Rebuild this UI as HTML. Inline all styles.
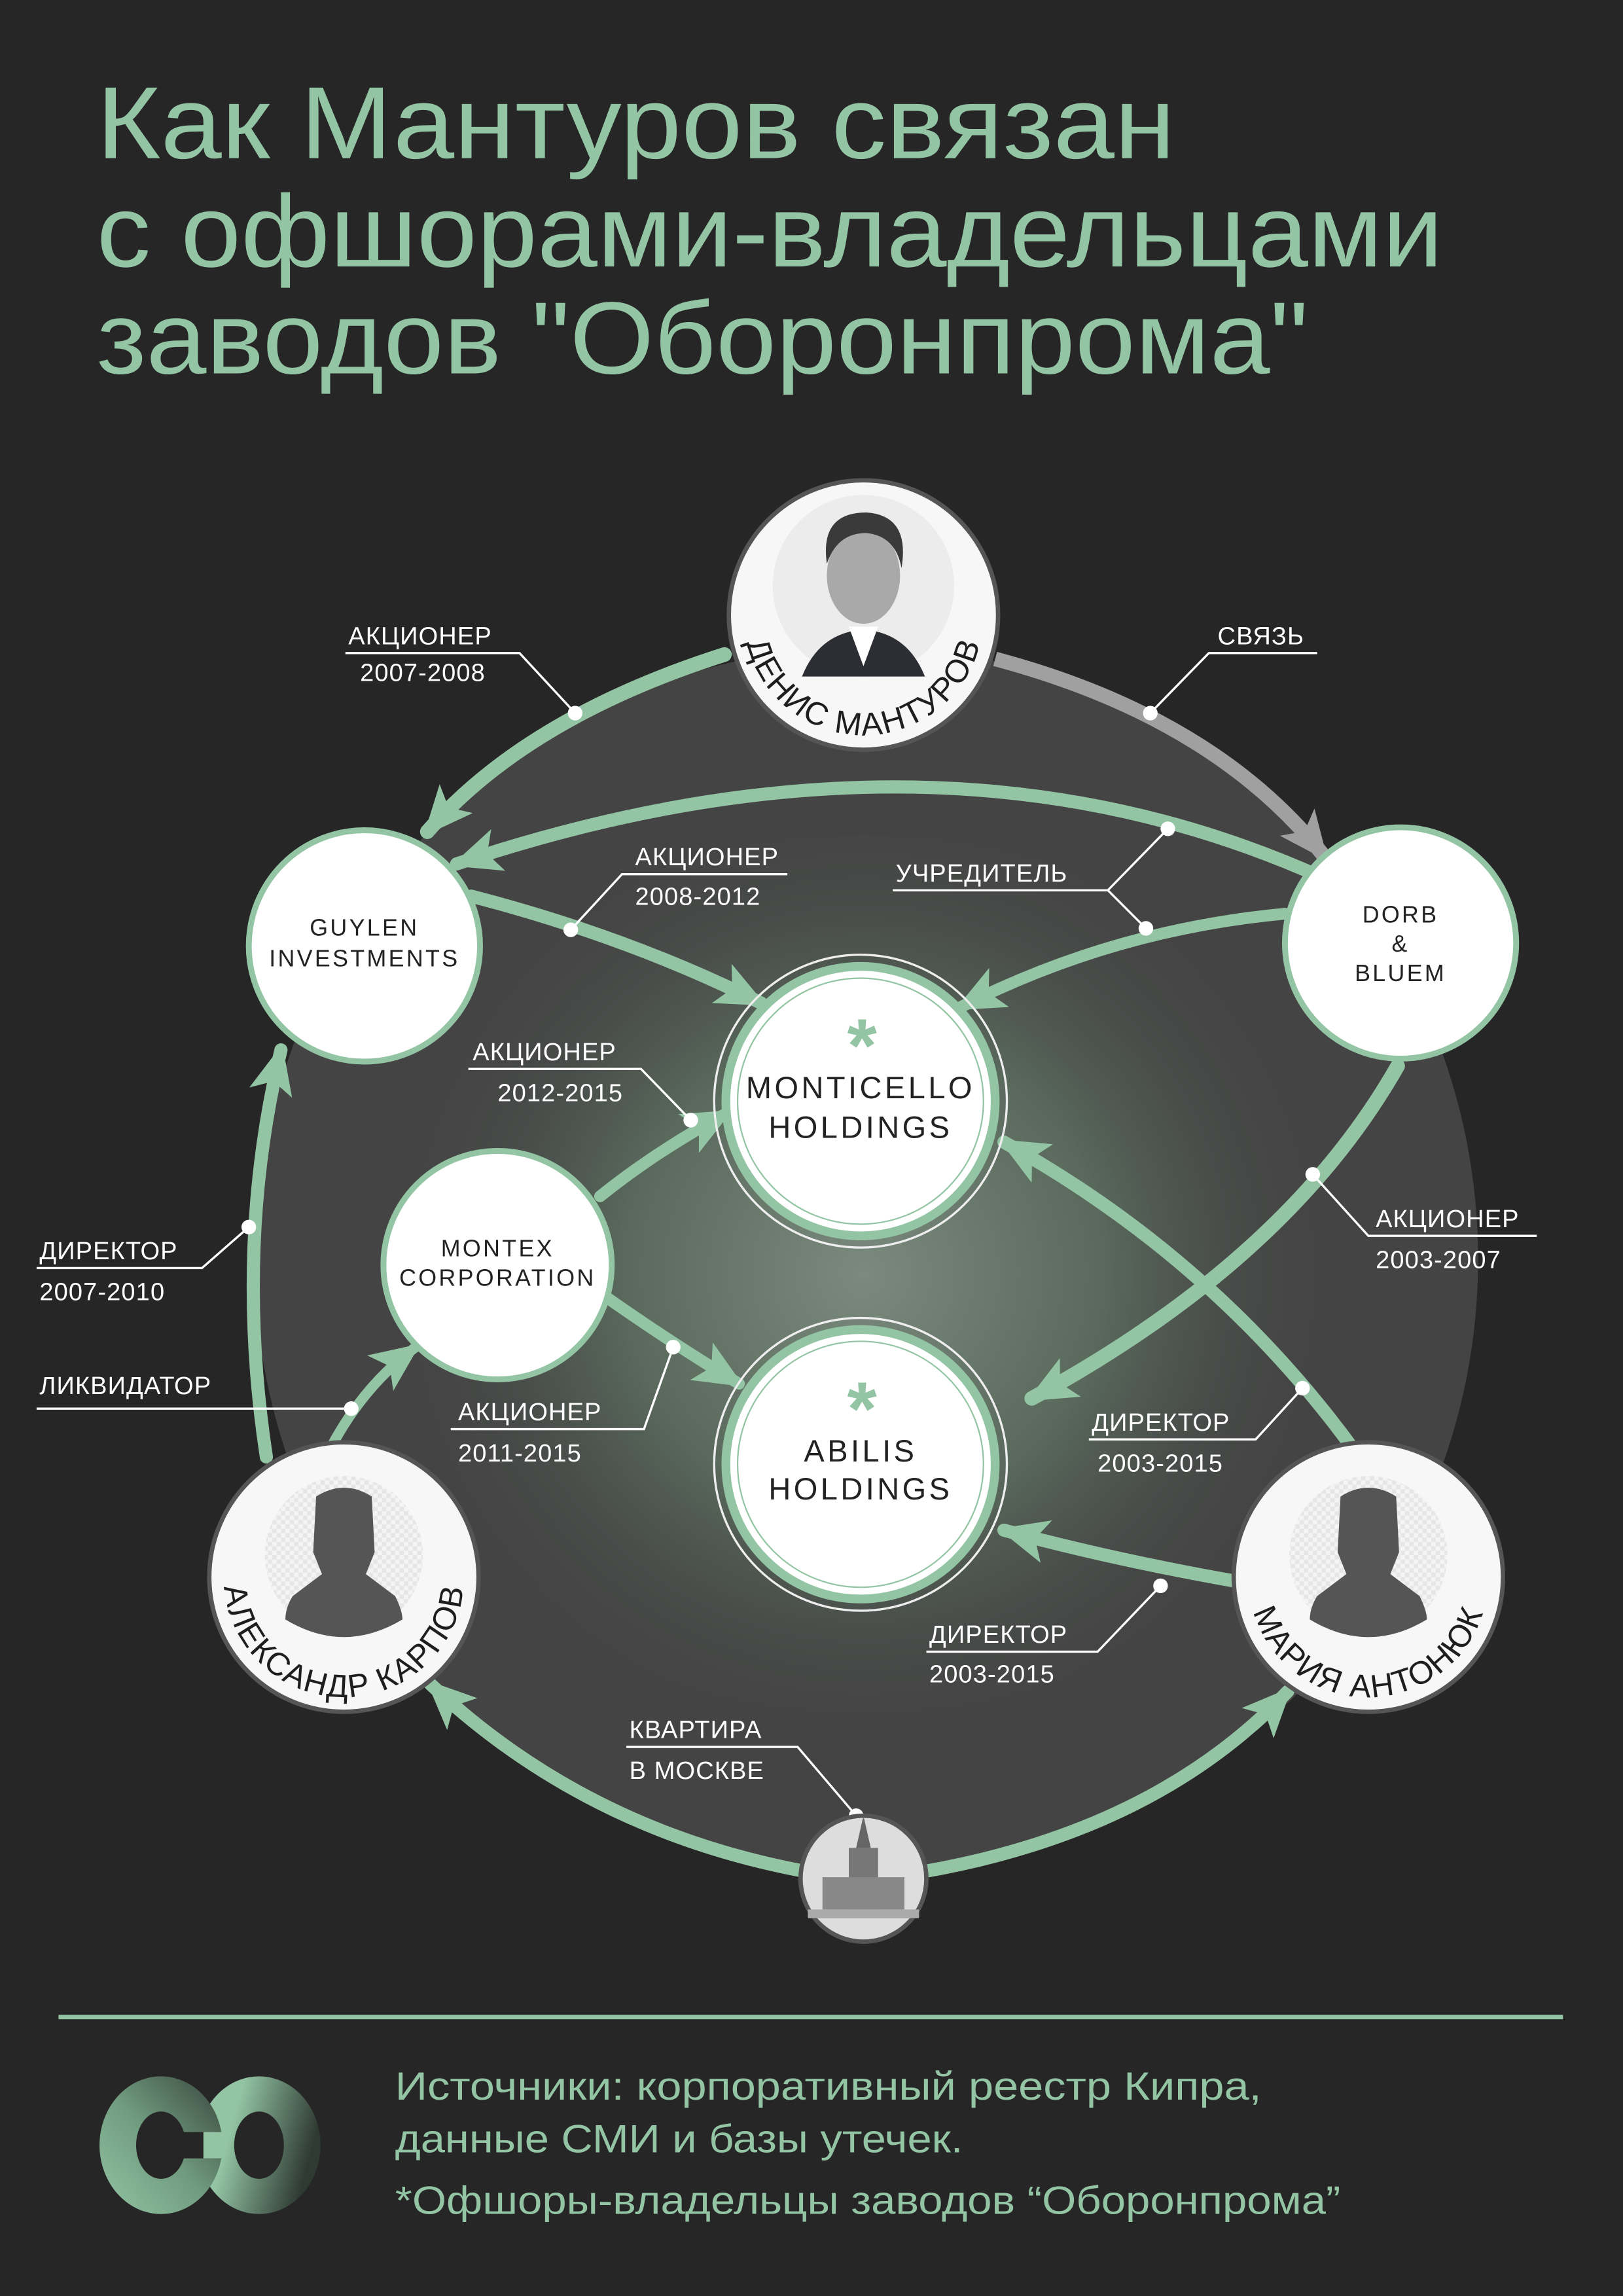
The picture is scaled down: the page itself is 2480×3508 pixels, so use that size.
<!DOCTYPE html>
<html><head><meta charset="utf-8"><style>
html,body{margin:0;padding:0;background:#262626;}
svg{display:block;}
</style></head><body>
<svg width="2480" height="3508" viewBox="0 0 1109 1568" preserveAspectRatio="none" xmlns="http://www.w3.org/2000/svg" font-family="'Liberation Sans', sans-serif">
<defs>
<radialGradient id="glow" cx="590" cy="870" r="330" gradientUnits="userSpaceOnUse">
<stop offset="0" stop-color="#7a8a7d"/><stop offset="0.5" stop-color="#59695c"/><stop offset="1" stop-color="#444" stop-opacity="0"/>
</radialGradient>
<linearGradient id="lg1" x1="0" y1="0" x2="1" y2="0.3"><stop offset="0.35" stop-color="#93c5a4"/><stop offset="1" stop-color="#2f3a33"/></linearGradient>
<linearGradient id="lg3" x1="0" y1="1" x2="1" y2="0"><stop offset="0" stop-color="#93c5a4"/><stop offset="0.5" stop-color="#6f9a7e"/><stop offset="1" stop-color="#38443b"/></linearGradient>
<marker id="ah" markerUnits="userSpaceOnUse" markerWidth="34" markerHeight="30" refX="30" refY="15" orient="auto"><path d="M0 0 L34 15 L0 30 L8 15 Z" fill="#93c5a4"/></marker>
<marker id="ahg" markerUnits="userSpaceOnUse" markerWidth="34" markerHeight="30" refX="30" refY="15" orient="auto"><path d="M0 0 L34 15 L0 30 L8 15 Z" fill="#a0a0a0"/></marker>
<path id="tpM" d="M519 379 A82 82 0 1 0 661 379"/>
<path id="tpK" d="M164 1036 A82 82 0 1 0 306 1036"/>
<path id="tpA" d="M864 1036 A82 82 0 1 0 1006 1036"/>
<pattern id="chk" width="6" height="6" patternUnits="userSpaceOnUse"><rect width="6" height="6" fill="#f4f4f4"/><rect width="3" height="3" fill="#e6e6e6"/><rect x="3" y="3" width="3" height="3" fill="#e6e6e6"/></pattern>
</defs>

<rect width="1109" height="1568" fill="#262626"/>

<g fill="#93c5a4" font-size="70">
<text x="66" y="108" textLength="737" lengthAdjust="spacingAndGlyphs">Как Мантуров связан</text>
<text x="66" y="182" textLength="920" lengthAdjust="spacingAndGlyphs">с офшорами-владельцами</text>
<text x="66" y="255" textLength="828" lengthAdjust="spacingAndGlyphs">заводов "Оборонпрома"</text>
</g>

<circle cx="592" cy="860" r="418" fill="#444"/>
<ellipse cx="590" cy="870" rx="360" ry="300" fill="url(#glow)"/>

<g fill="none" stroke="#93c5a4" stroke-linecap="round">
<path d="M495 447 Q360 490 292 568" stroke-width="10" marker-end="url(#ah)"/>
<path d="M905 600 Q640 480 312 590" stroke-width="9" marker-end="url(#ah)"/>
<path d="M322 612 Q430 640 520 685" stroke-width="9" marker-end="url(#ah)"/>
<path d="M878 624 Q760 635 656 688" stroke-width="8" marker-end="url(#ah)"/>
<path d="M955 728 Q880 860 705 955" stroke-width="10" marker-end="url(#ah)"/>
<path d="M410 817 Q450 785 497 760" stroke-width="8" marker-end="url(#ah)"/>
<path d="M413 885 Q460 918 505 945" stroke-width="8" marker-end="url(#ah)"/>
<path d="M182 995 Q160 850 192 717" stroke-width="9" marker-end="url(#ah)"/>
<path d="M228 985 Q250 945 284 920" stroke-width="7" marker-end="url(#ah)"/>
<path d="M925 990 Q830 860 686 780" stroke-width="9" marker-end="url(#ah)"/>
<path d="M845 1080 Q760 1065 686 1045" stroke-width="9" marker-end="url(#ah)"/>
<path d="M550 1278 Q400 1250 294 1150" stroke-width="9" marker-end="url(#ah)"/>
<path d="M632 1278 Q790 1250 880 1155" stroke-width="9" marker-end="url(#ah)"/>
</g>
<path d="M680 450 Q830 490 905 585" fill="none" stroke="#a0a0a0" stroke-width="10" marker-end="url(#ahg)"/>

<g fill="#fff" font-size="17" letter-spacing="0.5">
<text x="238" y="440">АКЦИОНЕР</text><text x="246" y="465">2007-2008</text>
<text x="832" y="440">СВЯЗЬ</text>
<text x="434" y="591">АКЦИОНЕР</text><text x="434" y="618">2008-2012</text>
<text x="612" y="602">УЧРЕДИТЕЛЬ</text>
<text x="323" y="724">АКЦИОНЕР</text><text x="340" y="752">2012-2015</text>
<text x="940" y="838">АКЦИОНЕР</text><text x="940" y="866">2003-2007</text>
<text x="27" y="860">ДИРЕКТОР</text><text x="27" y="888">2007-2010</text>
<text x="27" y="952">ЛИКВИДАТОР</text>
<text x="313" y="970">АКЦИОНЕР</text><text x="313" y="998">2011-2015</text>
<text x="746" y="977">ДИРЕКТОР</text><text x="750" y="1005">2003-2015</text>
<text x="635" y="1122">ДИРЕКТОР</text><text x="635" y="1149">2003-2015</text>
<text x="430" y="1187">КВАРТИРА</text><text x="430" y="1215">В МОСКВЕ</text>
</g>
<g fill="none" stroke="#fff" stroke-width="1.5">
<polyline points="236,446 355,446 393,487"/>
<polyline points="900,446 826,446 786,487"/>
<polyline points="538,597 425,597 390,635"/>
<polyline points="610,608 757,608 798,566"/>
<polyline points="757,608 783,634"/>
<polyline points="320,730 438,730 472,765"/>
<polyline points="1050,844 935,844 897,802"/>
<polyline points="25,866 138,866 170,838"/>
<polyline points="25,962 240,962"/>
<polyline points="308,976 440,976 460,920"/>
<polyline points="744,983 858,983 890,948"/>
<polyline points="633,1128 750,1128 793,1083"/>
<polyline points="428,1193 545,1193 585,1240"/>
</g>
<g fill="#fff">
<circle cx="393" cy="487" r="5"/><circle cx="786" cy="487" r="5"/><circle cx="390" cy="635" r="5"/>
<circle cx="798" cy="566" r="5"/><circle cx="783" cy="634" r="5"/><circle cx="472" cy="765" r="5"/>
<circle cx="897" cy="802" r="5"/><circle cx="170" cy="838" r="5"/><circle cx="240" cy="962" r="5"/>
<circle cx="460" cy="920" r="5"/><circle cx="890" cy="948" r="5"/><circle cx="793" cy="1083" r="5"/>
<circle cx="585" cy="1240" r="5"/>
</g>

<g font-size="16" fill="#222" text-anchor="middle" letter-spacing="1.5">
<circle cx="249" cy="646" r="79" fill="#fff" stroke="#93c5a4" stroke-width="4"/>
<text x="249" y="639">GUYLEN</text><text x="249" y="660">INVESTMENTS</text>
<circle cx="957" cy="644" r="79" fill="#fff" stroke="#93c5a4" stroke-width="4"/>
<text x="957" y="630">DORB</text><text x="957" y="650">&amp;</text><text x="957" y="670">BLUEM</text>
<circle cx="340" cy="864" r="78" fill="#fff" stroke="#93c5a4" stroke-width="4"/>
<text x="340" y="858">MONTEX</text><text x="340" y="878">CORPORATION</text>
</g>

<g text-anchor="middle" font-size="21" fill="#222" letter-spacing="2">
<circle cx="588" cy="752" r="100" fill="none" stroke="#eee" stroke-width="1.5"/>
<circle cx="588" cy="752" r="92" fill="#fff" stroke="#93c5a4" stroke-width="6"/>
<circle cx="588" cy="752" r="84" fill="none" stroke="#93c5a4" stroke-width="1"/>
<text x="590" y="732" font-size="52" fill="#93c5a4" font-weight="bold">*</text>
<text x="588" y="750">MONTICELLO</text><text x="588" y="777">HOLDINGS</text>
<circle cx="588" cy="1000" r="100" fill="none" stroke="#eee" stroke-width="1.5"/>
<circle cx="588" cy="1000" r="92" fill="#fff" stroke="#93c5a4" stroke-width="6"/>
<circle cx="588" cy="1000" r="84" fill="none" stroke="#93c5a4" stroke-width="1"/>
<text x="590" y="980" font-size="52" fill="#93c5a4" font-weight="bold">*</text>
<text x="588" y="998">ABILIS</text><text x="588" y="1024">HOLDINGS</text>
</g>

<g>
<circle cx="590" cy="420" r="92" fill="#f7f7f7" stroke="#555" stroke-width="3"/>
<circle cx="590" cy="400" r="62" fill="#ececec"/>
<path d="M548 462 Q560 432 590 430 Q620 432 632 462 Z" fill="#2c2e33"/>
<path d="M580 428 L590 455 L600 428 Z" fill="#fff"/>
<ellipse cx="590" cy="393" rx="25" ry="33" fill="#a9a9a9"/>
<path d="M565 385 Q560 350 592 350 Q622 352 616 388 Q612 366 592 364 Q572 364 565 385 Z" fill="#3a3a3a"/>
<text font-size="22" fill="#1e1e1e" letter-spacing="1"><textPath href="#tpM" startOffset="50%" text-anchor="middle">ДЕНИС МАНТУРОВ</textPath></text>

<circle cx="235" cy="1077" r="92" fill="#f7f7f7" stroke="#555" stroke-width="3"/>
<circle cx="235" cy="1062" r="54" fill="url(#chk)"/>
<path d="M216 1022 Q235 1010 254 1022 L256 1060 L250 1075 L270 1090 Q275 1100 275 1106 Q255 1118 235 1118 Q215 1118 195 1106 Q195 1098 200 1090 L220 1075 L214 1060 Z" fill="#555"/>
<text font-size="22" fill="#1e1e1e" letter-spacing="1"><textPath href="#tpK" startOffset="50%" text-anchor="middle">АЛЕКСАНДР КАРПОВ</textPath></text>

<circle cx="935" cy="1077" r="92" fill="#f7f7f7" stroke="#555" stroke-width="3"/>
<circle cx="935" cy="1062" r="54" fill="url(#chk)"/>
<path d="M916 1022 Q935 1010 954 1022 L956 1060 L950 1075 L970 1090 Q975 1100 975 1106 Q955 1118 935 1118 Q915 1118 895 1106 Q895 1098 900 1090 L920 1075 L914 1060 Z" fill="#555"/>
<text font-size="22" fill="#1e1e1e" letter-spacing="1"><textPath href="#tpA" startOffset="50%" text-anchor="middle">МАРИЯ АНТОНЮК</textPath></text>

<circle cx="590" cy="1283" r="43" fill="#ddd" stroke="#555" stroke-width="3"/>
<rect x="580" y="1262" width="20" height="42" fill="#777"/>
<path d="M590 1240 L585 1262 L595 1262 Z" fill="#666"/>
<rect x="562" y="1282" width="56" height="22" fill="#888"/>
<rect x="552" y="1304" width="76" height="6" fill="#aaa"/>
</g>

<rect x="40" y="1376" width="1028" height="3" fill="#93c5a4"/>
<g>
<ellipse cx="177" cy="1465" rx="42" ry="47" fill="url(#lg1)"/>
<ellipse cx="177" cy="1465" rx="17" ry="23" fill="#262626"/>
<ellipse cx="110" cy="1465" rx="42" ry="47" fill="url(#lg3)"/>
<ellipse cx="110" cy="1465" rx="17" ry="23" fill="#262626"/>
<rect x="124" y="1456" width="28" height="18" fill="#262626"/>
<rect x="139" y="1456" width="14" height="18" fill="#93c5a4"/>
</g>
<g fill="#93c5a4" font-size="27">
<text x="270" y="1434" textLength="592" lengthAdjust="spacingAndGlyphs">Источники: корпоративный реестр Кипра,</text>
<text x="270" y="1470" textLength="388" lengthAdjust="spacingAndGlyphs">данные СМИ и базы утечек.</text>
<text x="270" y="1512" textLength="646" lengthAdjust="spacingAndGlyphs">*Офшоры-владельцы заводов “Оборонпрома”</text>
</g>
</svg>
</body></html>
